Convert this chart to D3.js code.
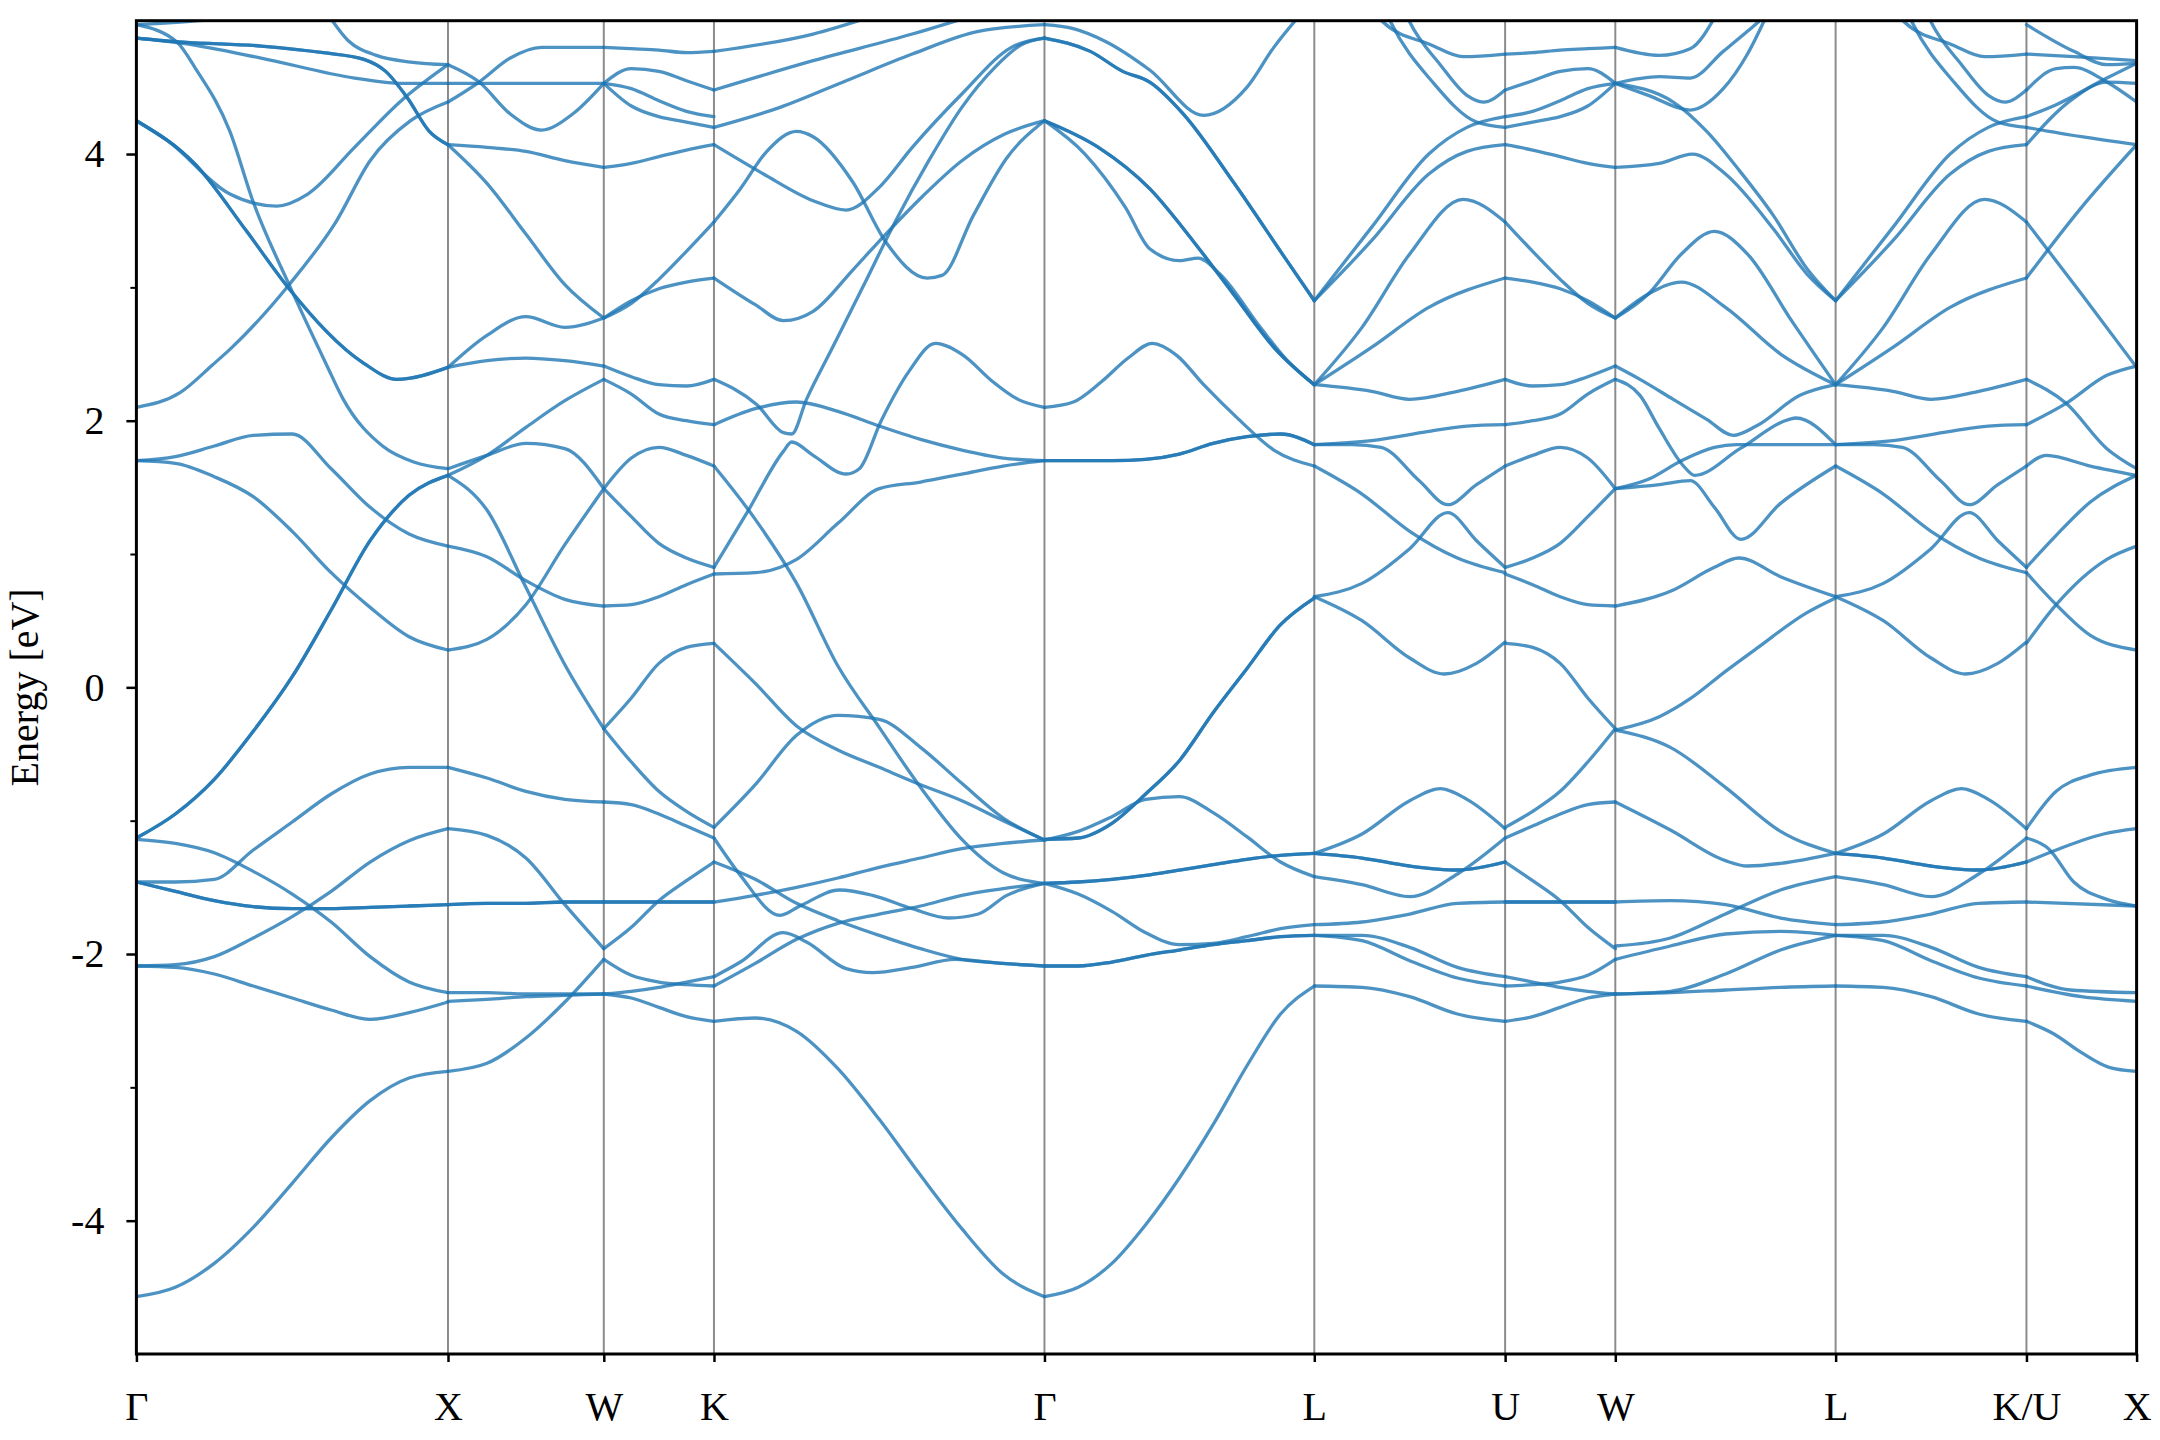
<!DOCTYPE html>
<html><head><meta charset="utf-8">
<script src="https://cdn.jsdelivr.net/npm/d3@7"></script>
<style>body{margin:0;background:#fff}svg{display:block}</style>
</head><body>
<svg id="chart" width="2160" height="1440"></svg>
<script>
// ---- data ----
const kLabels = ["Γ","X","W","K","Γ","L","U","W","L","K/U","X"];
const kTicks = [0, 1, 1.5, 1.8536, 2.9142, 3.7802, 4.3926, 4.7462, 5.4533, 6.0657, 6.4192];
const yTicks = [-4, -2, 0, 2, 4];
const yMinor = [-3, -1, 1, 3];

// Γ–X
const gxC1 = [-1.46,-1.53,-1.60,-1.645,-1.66,-1.66,-1.65,-1.64,-1.63];
const gxD2 = [-1.13,-0.95,-0.69,-0.33,0.08,0.58,1.10,1.44,1.59];
const gxE1 = [[0,4.25],[.19,3.92],[.354,3.42],[.49,2.99],[.73,2.43],[.835,2.31],[1,2.40]];
const gxB = [[0,4.87],[.15,4.84],[.4,4.81],[.6,4.76],[.73,4.71],[.8,4.62],[.87,4.42],[.94,4.17],[1,4.07]];
const segGX = [
  [-4.57,-4.50,-4.32,-4.05,-3.72,-3.38,-3.10,-2.93,-2.88],
  [-2.09,-2.10,-2.15,-2.24,-2.33,-2.42,-2.49,-2.44,-2.36],
  [-2.09,-2.08,-2.02,-1.88,-1.72,-1.53,-1.31,-1.15,-1.06],
  gxC1, gxC1,
  [-1.46,-1.46,-1.44,-1.22,-1.01,-0.80,-0.65,-0.60,-0.60],
  [-1.14,-1.17,-1.24,-1.38,-1.55,-1.76,-2.02,-2.21,-2.29],
  gxD2, gxD2,
  [1.70,1.73,1.81,1.89,1.90,1.64,1.35,1.15,1.06],
  [1.70,1.68,1.58,1.43,1.17,0.86,0.60,0.38,0.28],
  [[0,2.10],[.14,2.21],[.245,2.42],[.30,2.535],[.49,3.02],[.64,3.49],[.75,3.95],[.88,4.25],[1,4.39]],
  gxE1, gxE1,
  [[0,4.25],[.1,4.10],[.3,3.70],[.45,3.61],[.55,3.70],[.7,4.05],[.85,4.40],[1,4.67]],
  [[0,4.97],[.13,4.84],[.19,4.64],[.30,4.17],[.375,3.64],[.49,3.02],[.61,2.42],[.664,2.16],[.79,1.81],[.89,1.69],[1,1.64]],
  gxB, gxB,
  [[0,4.87],[.15,4.83],[.4,4.72],[.7,4.57],[.85,4.53],[1,4.53]],
  [[.6,5.1],[.68,4.85],[.77,4.74],[.88,4.69],[1,4.67]],
  [[0,4.97],[.2,5.0],[.4,5.05]]
];

// X–W
const xwC1 = [-1.63,-1.62,-1.62,-1.61,-1.61];
const segXW = [
  [-2.88,-2.82,-2.63,-2.36,-2.04],
  [-2.29,-2.29,-2.30,-2.30,-2.30],
  [-2.355,-2.34,-2.32,-2.31,-2.30],
  xwC1, xwC1,
  [-1.06,-1.11,-1.28,-1.63,-1.96],
  [-0.60,-0.68,-0.78,-0.84,-0.86],
  [1.59,1.74,1.95,2.15,2.31],
  [1.59,1.33,0.75,0.17,-0.31],
  [1.64,1.74,1.83,1.79,1.49],
  [1.06,0.98,0.80,0.66,0.61],
  [0.28,0.36,0.62,1.07,1.49],
  [2.40,2.45,2.47,2.45,2.41],
  [2.40,2.64,2.78,2.70,2.77],
  [4.07,4.05,4.02,3.95,3.90],
  [4.07,3.78,3.40,3.02,2.77],
  [4.53,4.53,4.53,4.53,4.53],
  [[0,4.67],[.2,4.54],[.4,4.30],[.6,4.18],[.8,4.30],[1,4.53]],
  [[0,4.39],[.2,4.54],[.4,4.72],[.6,4.80],[.8,4.80],[1,4.80]]
];

// W–K
const wkC1 = [-1.61,-1.61,-1.61,-1.61,-1.61];
const segWK = [
  [-2.04,-2.16,-2.21,-2.23,-2.24],
  [-2.30,-2.28,-2.25,-2.21,-2.17],
  [-2.30,-2.33,-2.40,-2.47,-2.505],
  wkC1, wkC1,
  [-1.96,-1.80,-1.60,-1.45,-1.31],
  [-0.86,-0.88,-0.95,-1.04,-1.13],
  [-0.31,-0.56,-0.78,-0.93,-1.05],
  [-0.31,-0.08,0.18,0.30,0.33],
  [0.61,0.62,0.68,0.77,0.85],
  [1.49,1.28,1.08,0.97,0.90],
  [1.49,1.72,1.80,1.74,1.66],
  [2.31,2.20,2.05,2.00,1.97],
  [2.41,2.33,2.27,2.26,2.31],
  [2.77,2.90,2.99,3.04,3.07],
  [2.77,2.88,3.06,3.27,3.49],
  [3.90,3.93,3.98,4.03,4.07],
  [4.53,4.36,4.28,4.24,4.20],
  [4.53,4.49,4.40,4.32,4.28],
  [4.53,4.64,4.62,4.55,4.48],
  [4.80,4.79,4.78,4.76,4.77]
];

// K–Γ
const segKG = [
  [-2.505,-2.48,-2.58,-2.86,-3.24,-3.66,-4.06,-4.40,-4.57],
  [-1.05,-0.73,-0.36,-0.21,-0.24,-0.45,-0.72,-0.98,-1.145],
  [0.33,0.03,-0.29,-0.47,-0.60,-0.73,-0.85,-1.00,-1.145],
  [1.66,1.26,0.78,0.16,-0.30,-0.75,-1.14,-1.39,-1.47],
  [-1.61,-1.56,-1.50,-1.43,-1.35,-1.28,-1.21,-1.17,-1.145],
  [-1.31,-1.44,-1.62,-1.75,-1.86,-1.96,-2.04,-2.07,-2.09],
  [[0,-1.13],[.08,-1.41],[.2,-1.71],[.26,-1.64],[.38,-1.52],[.48,-1.56],[.6,-1.66],[.71,-1.73],[.8,-1.70],[.886,-1.56],[1,-1.47]],
  [[0,-2.17],[.08,-2.06],[.21,-1.84],[.28,-1.91],[.4,-2.11],[.48,-2.14],[.6,-2.10],[.73,-2.04],[.87,-2.07],[1,-2.09]],
  [-2.24,-2.07,-1.89,-1.77,-1.70,-1.64,-1.56,-1.51,-1.47],
  [0.85,0.86,0.96,1.23,1.49,1.54,1.60,1.66,1.70],
  [1.97,2.09,2.14,2.07,1.96,1.86,1.78,1.72,1.70],
  [[0,2.31],[.13,2.12],[.21,1.91],[.235,1.90],[.28,2.16],[.356,2.535],[.45,3.0],[.55,3.5],[.65,3.95],[.75,4.35],[.85,4.65],[.93,4.82],[1,4.87]],
  [[0,0.90],[.10,1.31],[.21,1.77],[.235,1.84],[.30,1.74],[.40,1.60],[.44,1.64],[.506,2.0],[.59,2.37],[.67,2.58],[.755,2.49],[.84,2.30],[.92,2.16],[1,2.10]],
  [[0,3.49],[.08,3.74],[.16,4.02],[.25,4.17],[.3,4.13],[.42,3.79],[.52,3.34],[.645,3.07],[.69,3.09],[.785,3.54],[.886,3.97],[1,4.25]],
  [[0,3.07],[.125,2.87],[.21,2.75],[.3,2.82],[.42,3.13],[.52,3.40],[.63,3.68],[.75,3.95],[.88,4.15],[1,4.25]],
  [[0,4.07],[.15,3.85],[.3,3.65],[.4,3.58],[.5,3.75],[.6,4.05],[.75,4.45],[.9,4.8],[1,4.87]],
  [[0,4.20],[.2,4.35],[.4,4.55],[.6,4.75],[.8,4.92],[1,4.97]],
  [[0,4.48],[.3,4.7],[.6,4.9],[.8,5.05]],
  [[0,4.77],[.3,4.9],[.5,5.05]]
];

// Γ–L
const glD2 = [-1.14,-1.13,-1.02,-0.80,-0.55,-0.19,0.14,0.47,0.67];
const glT1 = [-1.47,-1.46,-1.44,-1.41,-1.37,-1.33,-1.29,-1.26,-1.245];
const glT2 = [-2.09,-2.09,-2.06,-2.01,-1.97,-1.93,-1.90,-1.87,-1.86];
const glF = [1.70,1.70,1.70,1.71,1.75,1.83,1.88,1.90,1.82];
const glB = [[0,4.87],[.17,4.77],[.29,4.62],[.39,4.54],[.515,4.30],[.7,3.79],[.885,3.24],[1,2.90]];
const glE = [[0,4.25],[.2,4.05],[.39,3.74],[.55,3.35],[.7,2.95],[.85,2.55],[1,2.27]];
const segGL = [
  [-4.57,-4.50,-4.32,-4.03,-3.68,-3.28,-2.84,-2.45,-2.24],
  glD2, glD2,
  [-1.145,-1.08,-0.97,-0.84,-0.82,-0.94,-1.12,-1.31,-1.42],
  glT1, glT1,
  [-1.47,-1.55,-1.68,-1.84,-1.93,-1.92,-1.87,-1.81,-1.78],
  glT2, glT2,
  glF, glF,
  [[0,2.10],[.107,2.14],[.21,2.29],[.31,2.47],[.40,2.58],[.49,2.49],[.59,2.27],[.72,2.01],[.85,1.78],[1,1.66]],
  glB, glB, glE, glE,
  [[0,4.25],[.15,4.0],[.3,3.6],[.39,3.29],[.5,3.20],[.57,3.22],[.65,3.10],[.8,2.70],[.9,2.45],[1,2.27]],
  [[0,4.97],[.107,4.94],[.23,4.84],[.39,4.63],[.59,4.29],[.75,4.5],[.85,4.8],[.95,5.05]]
];

// L–U (the L–K line shows the same bands)
const luT = [-1.245,-1.28,-1.34,-1.37,-1.31];
const segLU = [
  [-2.24,-2.25,-2.32,-2.45,-2.505],
  [-1.78,-1.76,-1.70,-1.62,-1.61],
  [-1.86,-1.86,-1.95,-2.10,-2.17],
  [-1.86,-1.90,-2.05,-2.18,-2.24],
  luT, luT,
  [-1.42,-1.48,-1.57,-1.40,-1.13],
  [[0,-1.245],[.25,-1.10],[.5,-0.85],[.66,-0.76],[.8,-0.84],[1,-1.06]],
  [[0,0.68],[.25,0.50],[.5,0.22],[.68,0.10],[.85,0.18],[1,0.34]],
  [[0,0.68],[.25,0.78],[.5,1.04],[.7,1.31],[.85,1.10],[1,0.90]],
  [[0,1.66],[.25,1.45],[.5,1.17],[.75,0.97],[1,0.86]],
  [[0,1.82],[.2,1.82],[.35,1.80],[.55,1.55],[.7,1.37],[.85,1.52],[1,1.66]],
  [[0,1.82],[.3,1.85],[.6,1.92],[.8,1.96],[1,1.97]],
  [[0,2.27],[.3,2.22],[.5,2.16],[.75,2.22],[1,2.31]],
  [[0,2.27],[.3,2.55],[.6,2.85],[1,3.07]],
  [[0,2.27],[.25,2.7],[.5,3.25],[.78,3.66],[1,3.49]],
  [[0,2.90],[.3,3.35],[.6,3.85],[.8,4.02],[1,4.07]],
  [[0,2.90],[.3,3.45],[.6,4.0],[.8,4.2],[1,4.28]],
  [[.33,5.05],[.36,4.99],[.61,4.82],[.78,4.73],[1,4.75]],
  [[.48,5.05],[.5,4.99],[.66,4.67],[.8,4.44],[.886,4.39],[1,4.48]],
  [[.38,5.05],[.4,4.99],[.62,4.54],[.85,4.24],[1,4.20]]
];
const segLK = segLU;

// U–W
const uwC1 = [-1.61,-1.61,-1.61,-1.61,-1.61];
const segUW = [
  [-2.24,-2.23,-2.21,-2.16,-2.04],
  [-2.17,-2.21,-2.25,-2.28,-2.30],
  [-2.505,-2.47,-2.40,-2.33,-2.30],
  uwC1, uwC1,
  [-1.31,-1.45,-1.60,-1.80,-1.96],
  [-1.13,-1.04,-0.95,-0.88,-0.86],
  [-1.05,-0.93,-0.78,-0.56,-0.31],
  [0.33,0.30,0.18,-0.08,-0.31],
  [0.85,0.77,0.68,0.62,0.61],
  [0.90,0.97,1.08,1.28,1.49],
  [1.66,1.74,1.80,1.72,1.49],
  [1.97,2.00,2.05,2.20,2.31],
  [2.31,2.26,2.27,2.33,2.41],
  [3.07,3.04,2.99,2.90,2.77],
  [3.49,3.27,3.06,2.88,2.77],
  [4.07,4.03,3.98,3.93,3.90],
  [4.20,4.24,4.28,4.36,4.53],
  [4.28,4.32,4.40,4.49,4.53],
  [4.48,4.55,4.62,4.64,4.53],
  [4.75,4.76,4.78,4.79,4.80]
];

// W–L
const segWL = [
  [[0,-0.32],[.2,-0.22],[.34,-0.085],[.5,0.12],[.64,0.29],[.87,0.56],[1,0.67]],
  [-0.32,-0.45,-0.75,-1.08,-1.245],
  [[0,-0.86],[.25,-1.07],[.5,-1.30],[.6,-1.34],[.75,-1.32],[1,-1.245]],
  [-1.61,-1.60,-1.63,-1.73,-1.78],
  [-1.94,-1.88,-1.70,-1.52,-1.42],
  [-2.04,-1.94,-1.85,-1.83,-1.86],
  [-2.30,-2.29,-2.27,-2.25,-2.24],
  [-2.30,-2.28,-2.15,-1.97,-1.86],
  [[0,0.61],[.25,0.72],[.45,0.90],[.56,0.97],[.75,0.83],[1,0.68]],
  [[0,1.49],[.2,1.52],[.34,1.55],[.45,1.35],[.57,1.11],[.75,1.38],[1,1.66]],
  [[0,1.49],[.15,1.56],[.3,1.70],[.45,1.80],[.55,1.82],[1,1.82]],
  [[0,2.31],[.112,2.19],[.2,1.94],[.31,1.66],[.36,1.59],[.566,1.79],[.79,2.01],[.82,2.02],[1,1.82]],
  [[0,2.41],[.112,2.31],[.263,2.16],[.415,2.01],[.535,1.89],[.64,1.96],[.838,2.19],[1,2.27]],
  [[0,2.77],[.15,2.95],[.3,3.04],[.5,2.85],[.75,2.5],[1,2.27]],
  [[0,2.77],[.15,2.95],[.3,3.25],[.45,3.42],[.6,3.25],[.8,2.75],[1,2.27]],
  [[0,3.90],[.2,3.93],[.35,4.0],[.5,3.85],[.717,3.44],[.87,3.10],[1,2.90]],
  [[0,4.53],[.263,4.39],[.415,4.17],[.566,3.87],[.717,3.54],[.87,3.14],[1,2.90]],
  [[0,4.53],[.2,4.58],[.34,4.57],[.49,4.77],[.6,4.92],[.69,5.05]],
  [[0,4.53],[.15,4.44],[.34,4.33],[.49,4.49],[.6,4.75],[.69,5.05]],
  [[0,4.80],[.2,4.74],[.34,4.79],[.46,5.05]]
];

// K/U–X
const segUX = [
  [[0,-2.505],[.25,-2.60],[.5,-2.74],[.75,-2.85],[1,-2.88]],
  [[0,-2.24],[.5,-2.32],[1,-2.355]],
  [[0,-2.17],[.4,-2.27],[1,-2.29]],
  [[0,-1.61],[1,-1.64]],
  [[0,-1.31],[.3,-1.21],[.7,-1.10],[1,-1.06]],
  [[0,-1.06],[.27,-0.78],[.57,-0.66],[1,-0.60]],
  [[0,-1.13],[.2,-1.21],[.43,-1.46],[.73,-1.59],[1,-1.64]],
  [[0,0.33],[.27,0.62],[.73,0.96],[1,1.06]],
  [[0,0.86],[.27,0.62],[.58,0.39],[1,0.28]],
  [[0,0.90],[.27,1.14],[.58,1.39],[1,1.59]],
  [[0,1.66],[.18,1.74],[.58,1.66],[1,1.59]],
  [[0,2.31],[.36,2.13],[.73,1.79],[1,1.64]],
  [[0,1.97],[.36,2.13],[.73,2.34],[1,2.41]],
  [[0,3.49],[.5,2.95],[1,2.40]],
  [[0,3.07],[.5,3.60],[1,4.07]],
  [[0,4.20],[.5,4.13],[1,4.07]],
  [[0,4.07],[.43,4.42],[.73,4.54],[1,4.53]],
  [[0,4.28],[.27,4.37],[.73,4.57],[1,4.68]],
  [[0,4.48],[.27,4.64],[.43,4.65],[.73,4.54],[1,4.39]],
  [[0,4.75],[.43,4.73],[1,4.70]],
  [[0,4.97],[.43,4.77],[.73,4.67],[1,4.68]]
];

const segments = [segGX, segXW, segWK, segKG, segGL, segLU, segUW, segWL, segLK, segUX];

// ---- chart ----
const W = 2160, H = 1440;
const m = {left: 136.4, right: 23.4, top: 20.7, bottom: 86};
const svg = d3.select("#chart");
const x = d3.scaleLinear().domain([0, kTicks[kTicks.length - 1]]).range([m.left, W - m.right]);
const y = d3.scaleLinear().domain([-5, 5]).range([H - m.bottom, m.top]);
const font = "'Liberation Serif','Times New Roman',serif";
const fs = 40;

svg.append("defs").append("clipPath").attr("id", "clip")
  .append("rect").attr("x", m.left).attr("y", m.top)
  .attr("width", x.range()[1] - m.left).attr("height", y.range()[0] - m.top);

// vertical high-symmetry lines
svg.append("g").selectAll("line").data(kTicks.slice(1, -1)).join("line")
  .attr("x1", d => x(d)).attr("x2", d => x(d))
  .attr("y1", m.top).attr("y2", y.range()[0])
  .attr("stroke", "#000").attr("stroke-opacity", 0.45).attr("stroke-width", 2);

// bands
const line = d3.line().x(d => x(d[0])).y(d => y(d[1])).curve(d3.curveMonotoneX);
const gb = svg.append("g").attr("clip-path", "url(#clip)");
segments.forEach((seg, i) => {
  const k0 = kTicks[i], k1 = kTicks[i + 1];
  seg.forEach(c => {
    const pts = (typeof c[0] === "number") ? c.map((e, j) => [j / (c.length - 1), e]) : c;
    gb.append("path")
      .attr("d", line(pts.map(([f, e]) => [k0 + f * (k1 - k0), e])))
      .attr("fill", "none").attr("stroke", "#1f77b4").attr("stroke-opacity", 0.8)
      .attr("stroke-width", 3.3).attr("stroke-linejoin", "round").attr("stroke-linecap", "round");
  });
});

// axes
const yAxis = d3.axisLeft(y).tickValues(yTicks).tickFormat(d => String(d)).tickSize(10).tickPadding(22);
const gy = svg.append("g").attr("transform", `translate(${m.left},0)`).call(yAxis);
gy.select(".domain").remove();
gy.selectAll(".tick line").attr("stroke-width", 2.5);
gy.selectAll(".tick text").attr("font-family", font).attr("font-size", fs).attr("fill", "#000");
svg.append("g").attr("transform", `translate(${m.left},0)`)
  .call(d3.axisLeft(y).tickValues(yMinor).tickFormat("").tickSize(6))
  .call(g => g.select(".domain").remove())
  .selectAll(".tick line").attr("stroke-width", 2);

const xAxis = d3.axisBottom(x).tickValues(kTicks).tickFormat((d, i) => kLabels[i]).tickSize(8).tickPadding(30);
const gx = svg.append("g").attr("transform", `translate(0,${y.range()[0]})`).call(xAxis);
gx.select(".domain").remove();
gx.selectAll(".tick line").attr("stroke-width", 2.5);
gx.selectAll(".tick text").attr("font-family", font).attr("font-size", fs).attr("fill", "#000");

// frame
svg.append("rect").attr("x", m.left).attr("y", m.top)
  .attr("width", x.range()[1] - m.left).attr("height", y.range()[0] - m.top)
  .attr("fill", "none").attr("stroke", "#000").attr("stroke-width", 3);

// y label
svg.append("text").attr("transform", `translate(38,${(m.top + y.range()[0]) / 2}) rotate(-90)`)
  .attr("text-anchor", "middle").attr("font-family", font).attr("font-size", fs).text("Energy [eV]");
</script>
</body></html>
